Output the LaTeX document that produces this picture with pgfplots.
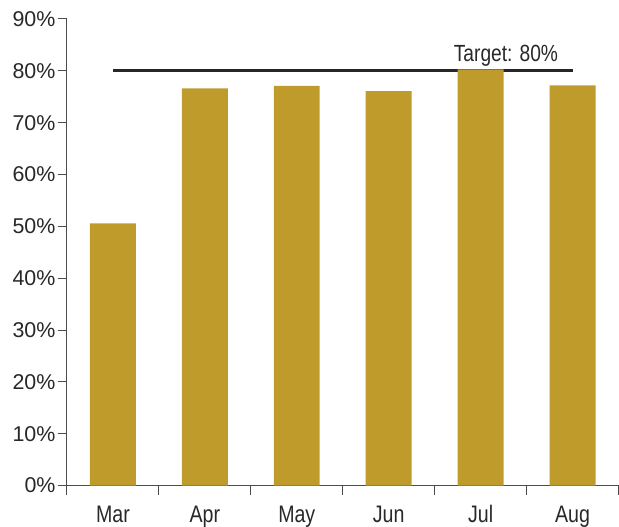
\documentclass[border=0pt]{standalone}
\usepackage{pgfplots}
\pgfplotsset{compat=1.18}
\usepackage{fontspec}
\setmainfont{Liberation Sans}
\newfontfamily\condfont[FakeStretch=0.82]{Liberation Sans}
\definecolor{barcol}{RGB}{191,155,43}
\definecolor{txt}{RGB}{40,40,40}
\begin{document}
\begin{tikzpicture}
\begin{axis}[
  name=ax, at={(0,0)}, anchor=south west,
  width=552bp, height=467bp, scale only axis,
  xmin=-0.5, xmax=5.5, ymin=0, ymax=90,
  axis lines*=left,
  axis line style={black!70, line width=1bp},
  xtick={0,...,5}, xticklabels={Mar,Apr,May,Jun,Jul,Aug},
  minor xtick={-0.5,0.5,...,5.5},
  ytick={0,10,...,90},
  yticklabels={0\%,10\%,20\%,30\%,40\%,50\%,60\%,70\%,80\%,90\%},
  tick align=outside,
  major tick length=9bp, minor tick length=9bp,
  major x tick style={draw=none},
  tick style={black!70, line width=1bp},
  xticklabel style={font=\condfont\fontsize{24}{24}\selectfont, text=txt, inner ysep=0pt, text height=17bp, text depth=4bp, yshift=-11bp},
  yticklabel style={font=\fontsize{21.5}{21.5}\selectfont, text=txt, xshift=1bp},
  clip=false,
]
\addplot[black!85, line width=2.8bp, forget plot] coordinates {(0,80) (5,80)};
\addplot[ybar, bar width=0.5, fill=barcol, draw=none] coordinates {(0,50.6) (1,76.6) (2,77.1) (3,76.1) (4,80.3) (5,77.2)};
\node[anchor=base east, font=\condfont\fontsize{23.5}{23.5}\selectfont, text=txt, yshift=9bp] at (axis cs:4.88,80) {Target: 80\%};
\end{axis}
\path (-67bp,-41bp) rectangle (552bp,486bp);
\end{tikzpicture}
\end{document}
